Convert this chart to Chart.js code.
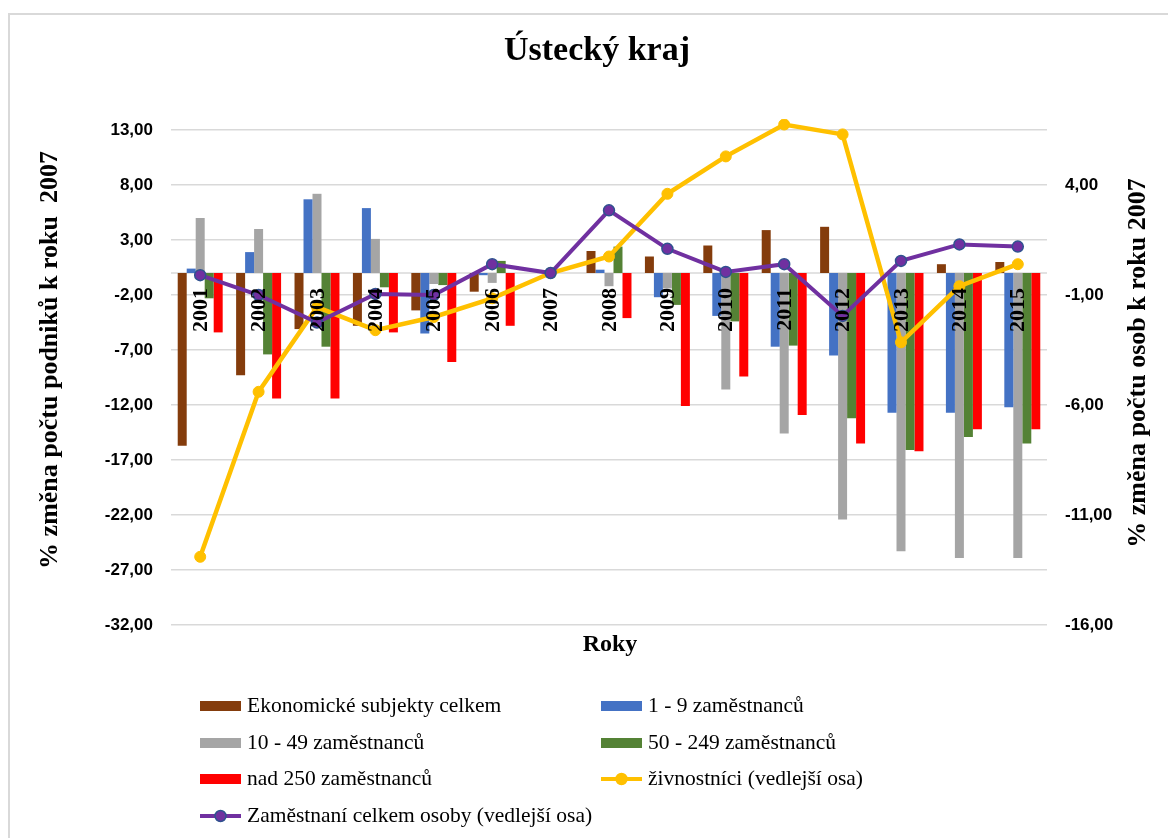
<!DOCTYPE html>
<html>
<head>
<meta charset="utf-8">
<script src="https://cdn.jsdelivr.net/npm/chart.js@4.4.1/dist/chart.umd.min.js"></script>
<style>
html,body{margin:0;padding:0;background:#fff;}
canvas{display:block;}
</style>
</head>
<body>
<canvas id="c" width="1168" height="838"></canvas>
<script>
// ---- data ----
const categories = ['2001','2002','2003','2004','2005','2006','2007','2008','2009','2010','2011','2012','2013','2014','2015'];
const ekonomickeSubjekty = [-15.7, -9.3, -5.1, -4.8, -3.4, -1.7, 0, 2.0, 1.5, 2.5, 3.9, 4.2, 0, 0.8, 1.0];
const zam1_9 = [0.4, 1.9, 6.7, 5.9, -5.5, -0.2, 0, 0.3, -2.2, -3.9, -6.7, -7.5, -12.7, -12.7, -12.2];
const zam10_49 = [5.0, 4.0, 7.2, 3.1, -1.0, -0.9, 0, -1.2, -1.4, -10.6, -14.6, -22.4, -25.3, -25.9, -25.9];
const zam50_249 = [-2.3, -7.4, -6.7, -1.3, -1.1, 1.1, 0, 2.4, -2.9, -4.4, -6.6, -13.2, -16.1, -14.9, -15.5];
const zamNad250 = [-5.4, -11.4, -11.4, -5.4, -8.1, -4.8, 0, -4.1, -12.1, -9.4, -12.9, -15.5, -16.2, -14.2, -14.2];
const zivnostnici = [-12.9, -5.4, -1.55, -2.6, -2.0, -1.15, 0, 0.75, 3.6, 5.3, 6.75, 6.3, -3.15, -0.6, 0.4];
const zamestnaniCelkem = [-0.1, -1.0, -2.25, -0.95, -1.0, 0.4, 0, 2.85, 1.1, 0.05, 0.4, -1.95, 0.55, 1.3, 1.2];
const leftTicks = [-32, -27, -22, -17, -12, -7, -2, 3, 8, 13];
const rightTicks = [-16, -11, -6, -1, 4];
const seriesNames = ['Ekonomické subjekty celkem', '1 - 9 zaměstnanců', '10 - 49 zaměstnanců', '50 - 249 zaměstnanců', 'nad 250 zaměstnanců', 'živnostníci (vedlejší osa)', 'Zaměstnaní celkem osoby (vedlejší osa)'];
const chartTitle = 'Ústecký kraj';
const xTitle = 'Roky';
const leftTitle = '% změna počtu podniků k roku  2007';
const rightTitle = '% změna počtu osob k roku 2007';

const fmt = v => Number(v).toFixed(2).replace('.', ',');
const SERIF = '"Liberation Serif", "Times New Roman", serif';
const SANS = '"Liberation Sans", Arial, sans-serif';

const customDraw = {
  id: 'customDraw',
  beforeDraw(chart) {
    const ctx = chart.ctx;
    ctx.save();
    ctx.fillStyle = '#fff';
    ctx.fillRect(0, 0, chart.width, chart.height);
    ctx.strokeStyle = '#d9d9d9';
    ctx.lineWidth = 2;
    ctx.strokeRect(9, 14, chart.width + 20, chart.height + 20);
    ctx.restore();
  },
  beforeDatasetsDraw(chart) {
    const ctx = chart.ctx, a = chart.chartArea;
    const y0 = chart.scales.y.getPixelForValue(0);
    ctx.save();
    ctx.strokeStyle = '#d9d9d9';
    ctx.lineWidth = 1.5;
    ctx.beginPath();
    ctx.moveTo(a.left, y0);
    ctx.lineTo(a.right, y0);
    ctx.stroke();
    ctx.restore();
  },
  afterDatasetsDraw(chart) {
    const ctx = chart.ctx;
    const xs = chart.scales.x;
    const y0 = chart.scales.y.getPixelForValue(0);
    ctx.save();
    ctx.fillStyle = '#000';
    ctx.font = 'bold 22px ' + SERIF;
    ctx.textAlign = 'right';
    ctx.textBaseline = 'middle';
    categories.forEach((c, i) => {
      const x = xs.getPixelForValue(i);
      ctx.save();
      ctx.translate(x + 1, y0 + 15);
      ctx.rotate(-Math.PI / 2);
      ctx.fillText(c, 0, 0);
      ctx.restore();
    });
    ctx.restore();
  },
  afterDraw(chart) {
    const ctx = chart.ctx;
    ctx.save();
    ctx.fillStyle = '#000';
    ctx.textAlign = 'center';
    ctx.textBaseline = 'middle';
    ctx.font = 'bold 34px ' + SERIF;
    ctx.fillText(chartTitle, 597, 51);
    ctx.font = 'bold 24px ' + SERIF;
    ctx.fillText(xTitle, 610, 645);
    ctx.font = 'bold 26px ' + SERIF;
    ctx.save();
    ctx.translate(50, 360);
    ctx.rotate(-Math.PI / 2);
    ctx.fillText(leftTitle, 0, 0);
    ctx.restore();
    ctx.save();
    ctx.translate(1138, 363);
    ctx.rotate(-Math.PI / 2);
    ctx.fillText(rightTitle, 0, 0);
    ctx.restore();

    // legend
    const cols = [200, 601];
    const rows = [706, 743, 779, 816];
    ctx.font = '21.5px ' + SERIF;
    ctx.textAlign = 'left';
    chart.data.datasets.forEach((ds, i) => {
      const x = cols[i % 2];
      const y = rows[Math.floor(i / 2)];
      if (ds.type === 'line') {
        ctx.strokeStyle = ds.borderColor;
        ctx.lineWidth = 4;
        ctx.beginPath();
        ctx.moveTo(x, y);
        ctx.lineTo(x + 41, y);
        ctx.stroke();
        ctx.beginPath();
        ctx.arc(x + 20.5, y, 5.5, 0, Math.PI * 2);
        ctx.fillStyle = ds.pointBackgroundColor;
        ctx.fill();
        ctx.lineWidth = 1.5;
        ctx.strokeStyle = ds.pointBorderColor;
        ctx.stroke();
      } else {
        ctx.fillStyle = ds.backgroundColor;
        ctx.fillRect(x, y - 5, 41, 10);
      }
      ctx.fillStyle = '#000';
      ctx.fillText(ds.label, x + 47, y);
    });
    ctx.restore();
  }
};

const barDs = (label, data, color) => ({
  type: 'bar', label, data, backgroundColor: color, borderWidth: 0,
  yAxisID: 'y', order: 2, categoryPercentage: 0.77, barPercentage: 1.0
});

new Chart(document.getElementById('c'), {
  type: 'bar',
  data: {
    labels: categories,
    datasets: [
      barDs(seriesNames[0], ekonomickeSubjekty, '#843C0C'),
      barDs(seriesNames[1], zam1_9, '#4472C4'),
      barDs(seriesNames[2], zam10_49, '#A5A5A5'),
      barDs(seriesNames[3], zam50_249, '#548235'),
      barDs(seriesNames[4], zamNad250, '#FF0000'),
      {
        type: 'line', label: seriesNames[5], data: zivnostnici, yAxisID: 'y1', order: 1,
        borderColor: '#FFC000', borderWidth: 4.5, tension: 0,
        pointRadius: 5.5, pointBackgroundColor: '#FFC000', pointBorderColor: '#FFC000', pointBorderWidth: 1
      },
      {
        type: 'line', label: seriesNames[6], data: zamestnaniCelkem, yAxisID: 'y1', order: 0,
        borderColor: '#7030A0', borderWidth: 4, tension: 0,
        pointRadius: 5.5, pointBackgroundColor: '#7030A0', pointBorderColor: '#2F528F', pointBorderWidth: 1.5
      }
    ]
  },
  options: {
    responsive: false,
    animation: false,
    devicePixelRatio: 1,
    layout: { padding: { top: 119, bottom: 213, left: 0, right: 0 } },
    plugins: { legend: { display: false }, tooltip: { enabled: false }, title: { display: false } },
    scales: {
      x: {
        offset: true,
        grid: { display: false },
        border: { display: false },
        ticks: { display: false },
        afterFit(s) { s.height = 0; }
      },
      y: {
        position: 'left', min: -32, max: 14,
        afterBuildTicks(s) { s.ticks = leftTicks.map(v => ({ value: v })); },
        grid: { color: '#d9d9d9', lineWidth: 1.5, drawTicks: false },
        border: { display: false },
        ticks: { padding: 18, color: '#000', font: { family: SANS, weight: 'bold', size: 17 }, callback: v => fmt(v) },
        afterFit(s) { s.width = 171; }
      },
      y1: {
        position: 'right', min: -16, max: 7,
        afterBuildTicks(s) { s.ticks = rightTicks.map(v => ({ value: v })); },
        grid: { display: false, drawTicks: false },
        border: { display: false },
        ticks: { padding: 18, color: '#000', font: { family: SANS, weight: 'bold', size: 17 }, callback: v => fmt(v) },
        afterFit(s) { s.width = 121; }
      }
    }
  },
  plugins: [customDraw]
});
</script>
</body>
</html>
